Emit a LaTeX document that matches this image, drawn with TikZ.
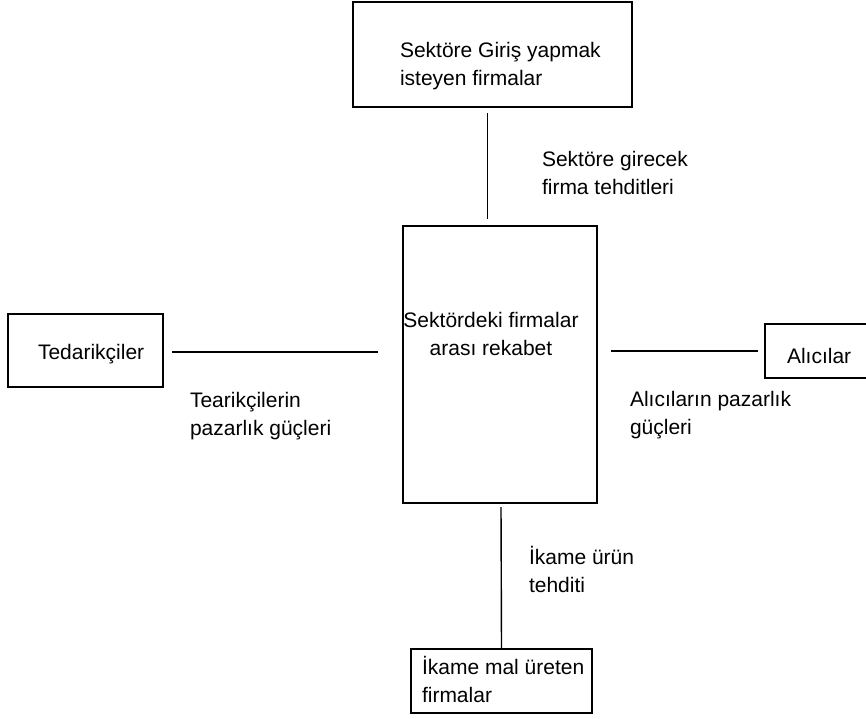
\documentclass[tikz,border=0pt]{standalone}
\usepackage{fontspec}
\setmainfont{Liberation Sans}
\begin{document}
\begin{tikzpicture}[x=1pt,y=-1pt,
  box/.style={draw,line width=1.3pt,inner sep=0pt,outer sep=0pt},
  lbl/.style={inner sep=0pt,outer sep=0pt,align=left,anchor=base west,
    font=\fontsize{21}{27.5}\selectfont},
  conn/.style={line width=1.4pt}]
\useasboundingbox (0,0) rectangle (866,718);
\clip (0,0) rectangle (866,718);
% boxes
\node[box,minimum width=279pt,minimum height=105pt] (entrants) at (492.5,54.5) {};
\node[box,minimum width=194pt,minimum height=277pt] (rivalry) at (500,364.5) {};
\node[box,minimum width=155pt,minimum height=73pt] (suppliers) at (85.5,350.5) {};
\node[box,minimum width=120pt,minimum height=54pt] (buyers) at (825,351) {};
\node[box,minimum width=181pt,minimum height=64pt] (substitutes) at (501.5,681) {};
% box texts (anchor = baseline of last line)
\node[lbl] (tEntrants) at (400,85) {Sektöre Giriş yapmak\\isteyen firmalar};
\node[lbl,anchor=base,align=center] (tRivalry) at (491,355) {Sektördeki firmalar\\arası rekabet};
\node[lbl] (tSuppliers) at (38,359) {Tedarikçiler};
\node[lbl] (tBuyers) at (787,363) {Alıcılar};
\node[lbl] (tSubstitutes) at (422,702) {İkame mal üreten\\firmalar};
% connector labels
\node[lbl] (lEntrants) at (542,194) {Sektöre girecek\\firma tehditleri};
\node[lbl] (lSuppliers) at (190,435) {Tearikçilerin\\pazarlık güçleri};
\node[lbl] (lBuyers) at (630,434) {Alıcıların pazarlık\\güçleri};
\node[lbl] (lSubstitutes) at (529,592) {İkame ürün\\tehditi};
% connector ends
\coordinate (a1) at (487.7,113);
\coordinate (a2) at (487.7,219);
\coordinate (b1) at (172,352);
\coordinate (b2) at (378,352);
\coordinate (c1) at (611,351);
\coordinate (c2) at (758,351);
\coordinate (d1) at (501,507);
\coordinate (d2) at (substitutes.north);
\draw[conn] (a1) -- (a2);
\draw[conn] (b1) -- (b2);
\draw[conn] (c1) -- (c2);
\draw[conn] (d1) -- (d2);
\end{tikzpicture}
\end{document}
